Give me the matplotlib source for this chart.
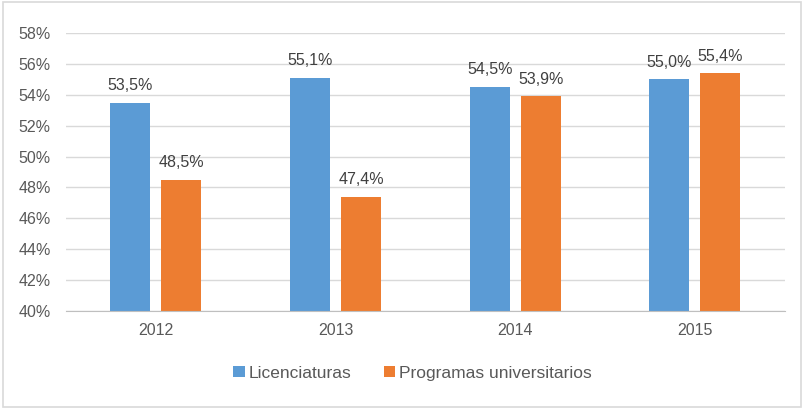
import matplotlib
matplotlib.use("Agg")
import matplotlib.pyplot as plt
import numpy as np
from matplotlib.patches import Rectangle

years = ["2012", "2013", "2014", "2015"]
licenciaturas = [53.5, 55.1, 54.5, 55.0]
programas = [48.5, 47.4, 53.9, 55.4]
series_names = ["Licenciaturas", "Programas universitarios"]
yticks = [40, 42, 44, 46, 48, 50, 52, 54, 56, 58]

BLUE = "#5B9BD5"
ORANGE = "#ED7D31"
TEXT = "#595959"

plt.rcParams["font.family"] = ["Liberation Sans", "DejaVu Sans"]

fig = plt.figure(figsize=(8.04, 4.09), dpi=100)
ax = fig.add_axes([0.082, 0.240, 0.894, 0.679])

x = np.arange(len(years))
w = 0.222
off = 0.142
b1 = ax.bar(x - off, licenciaturas, w, color=BLUE, label=series_names[0], zorder=3)
b2 = ax.bar(x + off, programas, w, color=ORANGE, label=series_names[1], zorder=3)

for bars, vals in ((b1, licenciaturas), (b2, programas)):
    for r, v in zip(bars, vals):
        ax.annotate(f"{v:.1f}%".replace(".", ","), (r.get_x() + r.get_width() / 2, v),
                    xytext=(0, 7), textcoords="offset points", ha="center", va="bottom",
                    fontsize=11.5, color="#404040")

ax.set_ylim(40, 58)
ax.set_xlim(-0.5, 3.5)
ax.set_yticks(yticks)
ax.set_yticklabels([f"{t}%" for t in yticks])
ax.set_xticks(x)
ax.set_xticklabels(years)
ax.tick_params(length=0, labelsize=11.5, colors=TEXT)
ax.tick_params(axis="x", pad=9)
ax.tick_params(axis="y", pad=11)
ax.grid(axis="y", color="#D9D9D9", lw=1, zorder=0)
for s in ("top", "right", "left"):
    ax.spines[s].set_visible(False)
ax.spines["bottom"].set_color("#BFBFBF")
ax.spines["bottom"].set_zorder(4)

fig.legend(handles=[b1, b2], loc="center", bbox_to_anchor=(0.513, 0.088), ncol=2,
           frameon=False, fontsize=12.5, labelcolor=TEXT, handlelength=0.65,
           handleheight=0.65, handletextpad=0.2, columnspacing=1.9)

fig.patches.append(Rectangle((0.004, 0.005), 0.992, 0.99, transform=fig.transFigure,
                             fill=False, edgecolor="#D9D9D9", lw=1.2))

fig.savefig("out.png", dpi=100)
